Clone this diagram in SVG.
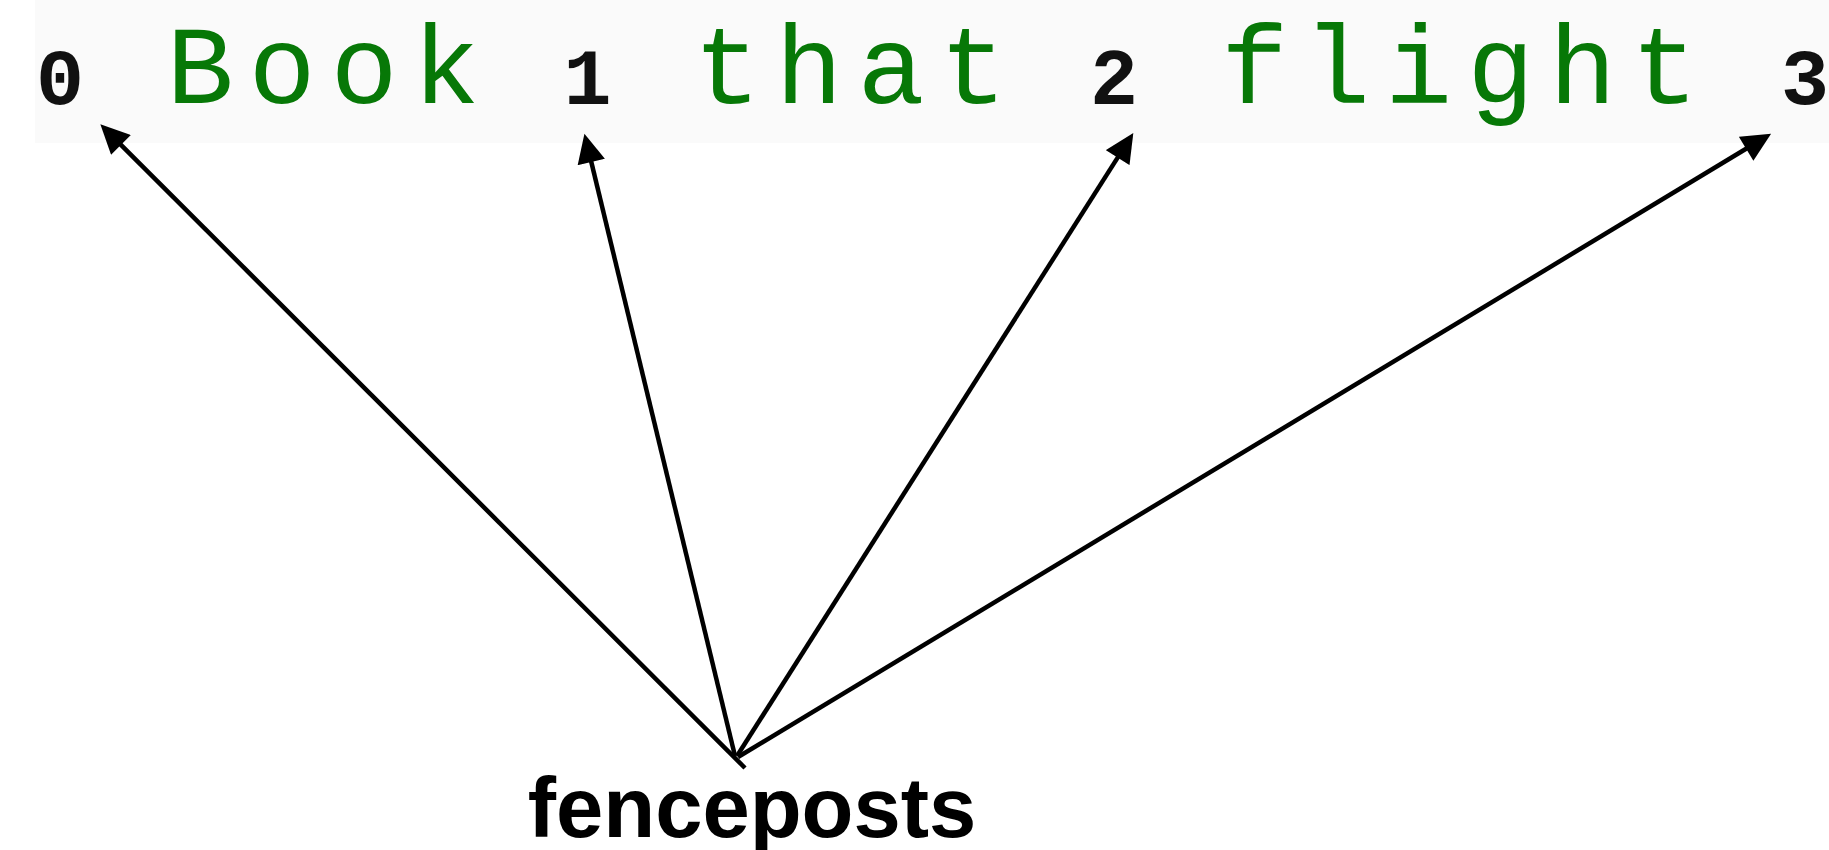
<svg xmlns="http://www.w3.org/2000/svg" width="1829" height="850" viewBox="0 0 1829 850">
  <style>
    .word { font-family: "Liberation Mono", "DejaVu Sans Mono", monospace; font-size: 112px; letter-spacing: 14.8px; fill: #077807; }
    .post { font-family: "Liberation Mono", "DejaVu Sans Mono", monospace; font-size: 80px; font-weight: bold; fill: #111111; text-anchor: middle; }
    .label { font-family: "Liberation Sans", Arial, sans-serif; font-size: 85px; font-weight: bold; fill: #000000; text-anchor: middle; }
    .edge { stroke: #000000; stroke-width: 4.5; fill: none; marker-end: url(#head); }
  </style>
  <defs>
    <marker id="head" markerUnits="userSpaceOnUse" markerWidth="30" markerHeight="28" refX="6" refY="12.5" orient="auto" viewBox="0 0 26 25">
      <path d="M0,0 L26,12.5 L0,25 Z" fill="#000000"/>
    </marker>
  </defs>

  <rect width="1829" height="850" fill="#ffffff"/>

  <!-- sentence strip -->
  <g id="sentence">
    <rect x="35" y="0" width="1794" height="143" fill="#fafafa"/>
    <text class="word" x="166.4" y="103">Book</text>
    <text class="word" x="693.4" y="103">that</text>
    <text class="word" x="1221" y="103">flight</text>
  </g>

  <!-- fencepost indices -->
  <g id="post0"><text class="post" x="60" y="104">0</text></g>
  <g id="post1"><text class="post" x="587.5" y="104">1</text></g>
  <g id="post2"><text class="post" x="1114" y="104">2</text></g>
  <g id="post3"><text class="post" x="1805" y="104">3</text></g>

  <g id="fenceposts-label"><text class="label" x="752" y="837">fenceposts</text></g>

  <!-- pointers from the label to each index -->
  <g id="connectors">
    <line class="edge" x1="745" y1="768" x2="116.2" y2="140.1"/>
    <line class="edge" x1="735" y1="756" x2="589.7" y2="155.4"/>
    <line class="edge" x1="737" y1="756" x2="1121.3" y2="151.9"/>
    <line class="edge" x1="738" y1="757" x2="1751.9" y2="145.3"/>
  </g>
</svg>
